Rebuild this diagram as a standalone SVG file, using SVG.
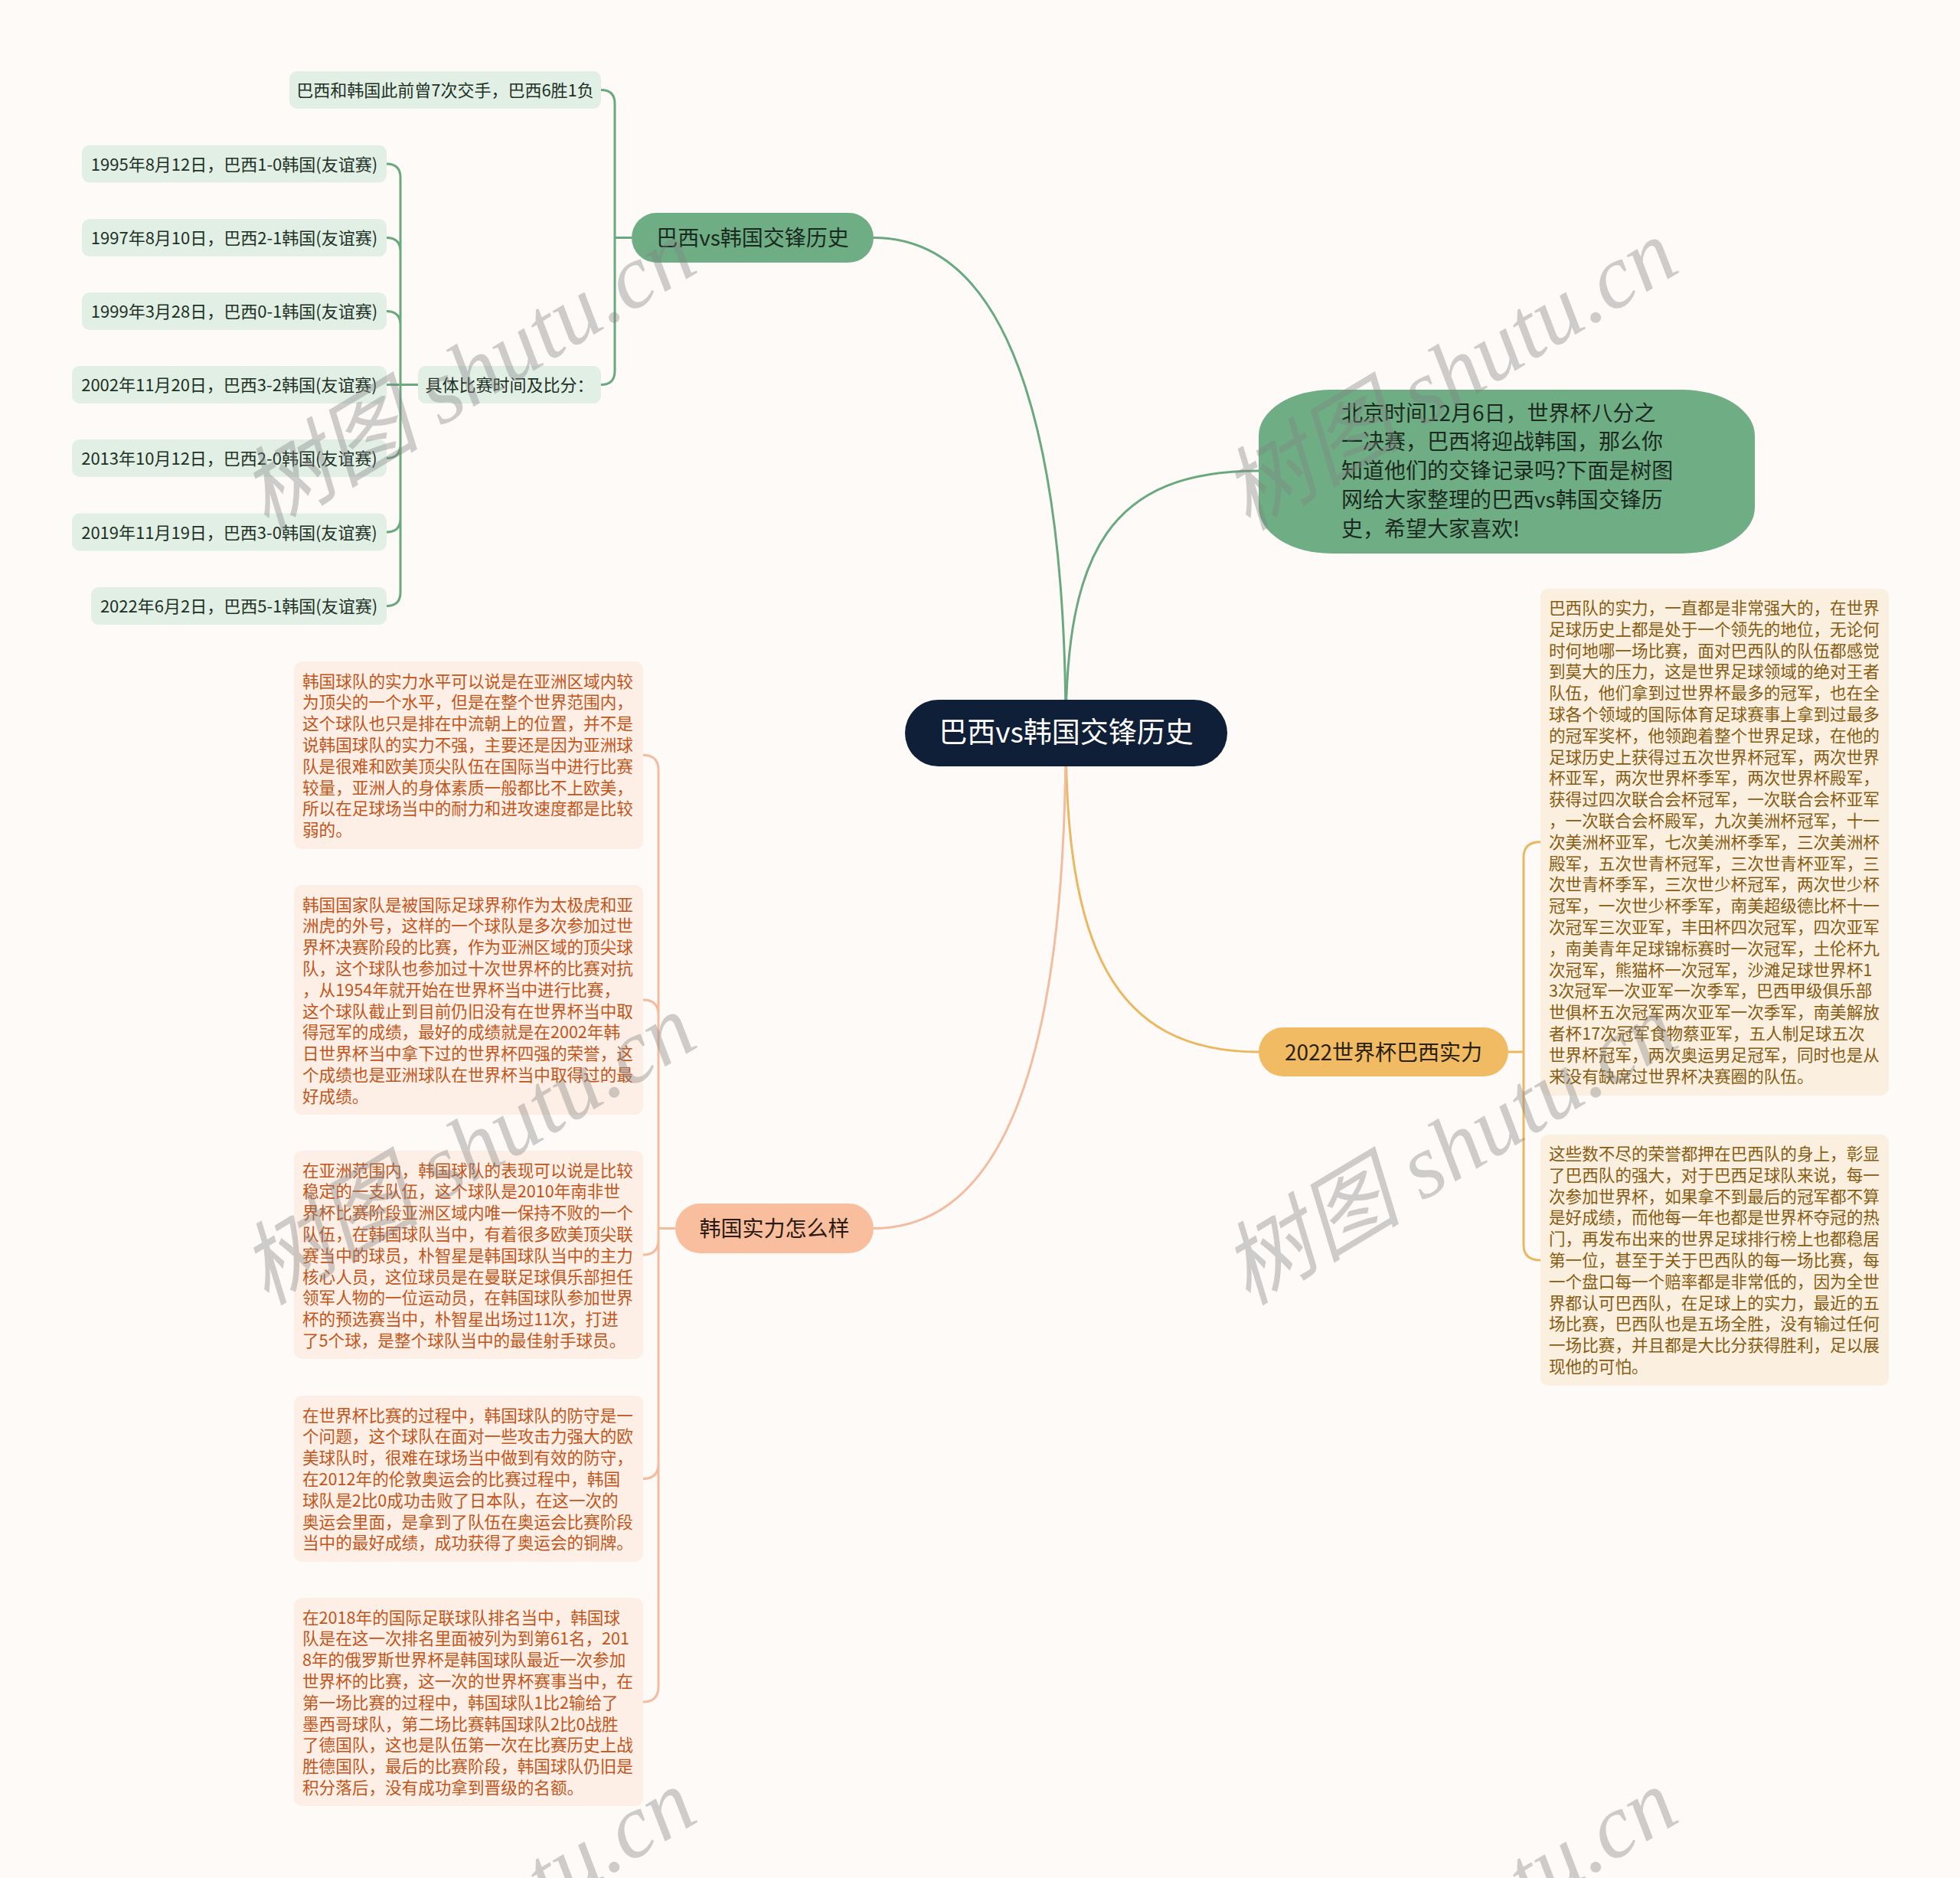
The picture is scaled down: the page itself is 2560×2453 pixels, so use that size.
<svg xmlns="http://www.w3.org/2000/svg" width="2560" height="2453" viewBox="0 0 2560 2453">
<style>
text{font-family:"Noto Sans CJK SC","Noto Sans",sans-serif}
.lg{fill:#e1efe5}
.lgt{fill:#1e3125;font-size:22px}
.para{font-size:21.6px}
.kr{fill:#fdefe6}
.krt{fill:#c1561b}
.br{fill:#fbf0e0}
.brt{fill:#875c12}
.big{font-size:28px}
.cg{fill:none;stroke:#6aa97f;stroke-width:3}
.co{fill:none;stroke:#ebb862;stroke-width:3}
.cs{fill:none;stroke:#f4bc9e;stroke-width:3}
.wm text{font-family:"Liberation Serif","Noto Sans CJK SC",serif;font-style:italic;font-size:118px;fill:#808080;fill-opacity:0.38}
</style>
<rect width="2560" height="2453" fill="#fdfaf8"/>

<g id="connectors">
<path class="cg" d="M1392,957 C1392,600 1330,310.5 1141,310.5"/>
<path class="cg" d="M1392,957 C1392,720 1450,615 1644,615"/>
<path class="co" d="M1392,957 C1392,1230 1450,1374 1644,1374"/>
<path class="cs" d="M1392,957 C1392,1330 1330,1604.5 1141,1604.5"/>
<path class="cg" d="M825,310.5 H803 M785,117.5 Q803,117.5 803,135.5 V484.5 Q803,502.5 785,502.5"/>
<path class="cg" d="M546,502.5 H505 M505,214 Q523,214 523,232 V773.5 Q523,791.5 505,791.5 M505,310.5 Q523,310.5 523,328.5 M505,406.5 Q523,406.5 523,424.5 M505,598.5 Q523,598.5 523,580.5 M505,695 Q523,695 523,677"/>
<path class="cs" d="M882,1604.5 H860 M840,986.3 Q860,986.3 860,1006 V2203 Q860,2223 840,2223 M840,1306 Q860,1306 860,1326 M840,1639 Q860,1639 860,1619 M840,1931.5 Q860,1931.5 860,1911.5"/>
<path class="co" d="M1970,1374 H1990 M2012,1099.8 Q1990,1099.8 1990,1120 V1626 Q1990,1646 2012,1646"/>
</g>

<g id="root">
<rect x="1182" y="914" width="421" height="87" rx="43.5" fill="#0f1f38"/>
<text x="1392.5" y="970" text-anchor="middle" font-size="37" fill="#ffffff">巴西vs韩国交锋历史</text>
</g>

<g id="branch-history">
<rect x="825" y="278" width="316" height="65" rx="32.5" fill="#6fae85"/>
<text x="983" y="321" text-anchor="middle" class="big" fill="#1a2a1f">巴西vs韩国交锋历史</text>
</g>

<g id="note-7">
<rect class="lg" x="378" y="93" width="407" height="49" rx="10"/>
<text class="lgt" x="581.5" y="126" text-anchor="middle">巴西和韩国此前曾7次交手，巴西6胜1负</text>
</g>
<g id="note-detail">
<rect class="lg" x="546" y="478" width="239" height="49" rx="10"/>
<text class="lgt" x="665.5" y="511" text-anchor="middle">具体比赛时间及比分：</text>
</g>
<g id="m1995">
<rect class="lg" x="107" y="189.5" width="398" height="49" rx="10"/>
<text class="lgt" x="306" y="222.5" text-anchor="middle">1995年8月12日，巴西1-0韩国(友谊赛)</text>
</g>
<g id="m1997">
<rect class="lg" x="107" y="286" width="398" height="49" rx="10"/>
<text class="lgt" x="306" y="319" text-anchor="middle">1997年8月10日，巴西2-1韩国(友谊赛)</text>
</g>
<g id="m1999">
<rect class="lg" x="107" y="382" width="398" height="49" rx="10"/>
<text class="lgt" x="306" y="415" text-anchor="middle">1999年3月28日，巴西0-1韩国(友谊赛)</text>
</g>
<g id="m2002">
<rect class="lg" x="94" y="478" width="411" height="49" rx="10"/>
<text class="lgt" x="299.5" y="511" text-anchor="middle">2002年11月20日，巴西3-2韩国(友谊赛)</text>
</g>
<g id="m2013">
<rect class="lg" x="94" y="574" width="411" height="49" rx="10"/>
<text class="lgt" x="299.5" y="607" text-anchor="middle">2013年10月12日，巴西2-0韩国(友谊赛)</text>
</g>
<g id="m2019">
<rect class="lg" x="94" y="670.5" width="411" height="49" rx="10"/>
<text class="lgt" x="299.5" y="703.5" text-anchor="middle">2019年11月19日，巴西3-0韩国(友谊赛)</text>
</g>
<g id="m2022">
<rect class="lg" x="119" y="767" width="386" height="49" rx="10"/>
<text class="lgt" x="312" y="800" text-anchor="middle">2022年6月2日，巴西5-1韩国(友谊赛)</text>
</g>

<g id="intro">
<rect x="1644" y="509" width="648" height="214" rx="95" ry="60" fill="#6fae85"/>
<text class="big" fill="#1c2a20" x="1752" y="549.5">
<tspan x="1752">北京时间12月6日，世界杯八分之</tspan>
<tspan x="1752" dy="37.8">一决赛，巴西将迎战韩国，那么你</tspan>
<tspan x="1752" dy="37.8">知道他们的交锋记录吗?下面是树图</tspan>
<tspan x="1752" dy="37.8">网给大家整理的巴西vs韩国交锋历</tspan>
<tspan x="1752" dy="37.8">史，希望大家喜欢!</tspan>
</text>
</g>

<g id="branch-brazil">
<rect x="1644" y="1342" width="326" height="64" rx="32" fill="#f0bb62"/>
<text x="1807" y="1384.5" text-anchor="middle" class="big" fill="#2a2010">2022世界杯巴西实力</text>
</g>

<g id="brazil-1">
<rect class="br" x="2012" y="769" width="455" height="662" rx="10"/>
<text class="para brt" x="2023" y="802">
<tspan x="2023">巴西队的实力，一直都是非常强大的，在世界</tspan>
<tspan x="2023" dy="27.8">足球历史上都是处于一个领先的地位，无论何</tspan>
<tspan x="2023" dy="27.8">时何地哪一场比赛，面对巴西队的队伍都感觉</tspan>
<tspan x="2023" dy="27.8">到莫大的压力，这是世界足球领域的绝对王者</tspan>
<tspan x="2023" dy="27.8">队伍，他们拿到过世界杯最多的冠军，也在全</tspan>
<tspan x="2023" dy="27.8">球各个领域的国际体育足球赛事上拿到过最多</tspan>
<tspan x="2023" dy="27.8">的冠军奖杯，他领跑着整个世界足球，在他的</tspan>
<tspan x="2023" dy="27.8">足球历史上获得过五次世界杯冠军，两次世界</tspan>
<tspan x="2023" dy="27.8">杯亚军，两次世界杯季军，两次世界杯殿军，</tspan>
<tspan x="2023" dy="27.8">获得过四次联合会杯冠军，一次联合会杯亚军</tspan>
<tspan x="2023" dy="27.8">，一次联合会杯殿军，九次美洲杯冠军，十一</tspan>
<tspan x="2023" dy="27.8">次美洲杯亚军，七次美洲杯季军，三次美洲杯</tspan>
<tspan x="2023" dy="27.8">殿军，五次世青杯冠军，三次世青杯亚军，三</tspan>
<tspan x="2023" dy="27.8">次世青杯季军，三次世少杯冠军，两次世少杯</tspan>
<tspan x="2023" dy="27.8">冠军，一次世少杯季军，南美超级德比杯十一</tspan>
<tspan x="2023" dy="27.8">次冠军三次亚军，丰田杯四次冠军，四次亚军</tspan>
<tspan x="2023" dy="27.8">，南美青年足球锦标赛时一次冠军，土伦杯九</tspan>
<tspan x="2023" dy="27.8">次冠军，熊猫杯一次冠军，沙滩足球世界杯1</tspan>
<tspan x="2023" dy="27.8">3次冠军一次亚军一次季军，巴西甲级俱乐部</tspan>
<tspan x="2023" dy="27.8">世俱杯五次冠军两次亚军一次季军，南美解放</tspan>
<tspan x="2023" dy="27.8">者杯17次冠军食物蔡亚军，五人制足球五次</tspan>
<tspan x="2023" dy="27.8">世界杯冠军，两次奥运男足冠军，同时也是从</tspan>
<tspan x="2023" dy="27.8">来没有缺席过世界杯决赛圈的队伍。</tspan>
</text>
</g>

<g id="brazil-2">
<rect class="br" x="2012" y="1482" width="455" height="328" rx="10"/>
<text class="para brt" x="2023" y="1515">
<tspan x="2023">这些数不尽的荣誉都押在巴西队的身上，彰显</tspan>
<tspan x="2023" dy="27.8">了巴西队的强大，对于巴西足球队来说，每一</tspan>
<tspan x="2023" dy="27.8">次参加世界杯，如果拿不到最后的冠军都不算</tspan>
<tspan x="2023" dy="27.8">是好成绩，而他每一年也都是世界杯夺冠的热</tspan>
<tspan x="2023" dy="27.8">门，再发布出来的世界足球排行榜上也都稳居</tspan>
<tspan x="2023" dy="27.8">第一位，甚至于关于巴西队的每一场比赛，每</tspan>
<tspan x="2023" dy="27.8">一个盘口每一个赔率都是非常低的，因为全世</tspan>
<tspan x="2023" dy="27.8">界都认可巴西队，在足球上的实力，最近的五</tspan>
<tspan x="2023" dy="27.8">场比赛，巴西队也是五场全胜，没有输过任何</tspan>
<tspan x="2023" dy="27.8">一场比赛，并且都是大比分获得胜利，足以展</tspan>
<tspan x="2023" dy="27.8">现他的可怕。</tspan>
</text>
</g>

<g id="branch-korea">
<rect x="882" y="1572" width="259" height="65" rx="32.5" fill="#f8be9d"/>
<text x="1011.5" y="1615" text-anchor="middle" class="big" fill="#2a1a12">韩国实力怎么样</text>
</g>

<g id="korea-1">
<rect class="kr" x="384" y="864" width="456" height="245" rx="10"/>
<text class="para krt" x="395" y="897.5">
<tspan x="395">韩国球队的实力水平可以说是在亚洲区域内较</tspan>
<tspan x="395" dy="27.8">为顶尖的一个水平，但是在整个世界范围内，</tspan>
<tspan x="395" dy="27.8">这个球队也只是排在中流朝上的位置，并不是</tspan>
<tspan x="395" dy="27.8">说韩国球队的实力不强，主要还是因为亚洲球</tspan>
<tspan x="395" dy="27.8">队是很难和欧美顶尖队伍在国际当中进行比赛</tspan>
<tspan x="395" dy="27.8">较量，亚洲人的身体素质一般都比不上欧美，</tspan>
<tspan x="395" dy="27.8">所以在足球场当中的耐力和进攻速度都是比较</tspan>
<tspan x="395" dy="27.8">弱的。</tspan>
</text>
</g>

<g id="korea-2">
<rect class="kr" x="384" y="1156" width="456" height="300" rx="10"/>
<text class="para krt" x="395" y="1189.5">
<tspan x="395">韩国国家队是被国际足球界称作为太极虎和亚</tspan>
<tspan x="395" dy="27.8">洲虎的外号，这样的一个球队是多次参加过世</tspan>
<tspan x="395" dy="27.8">界杯决赛阶段的比赛，作为亚洲区域的顶尖球</tspan>
<tspan x="395" dy="27.8">队，这个球队也参加过十次世界杯的比赛对抗</tspan>
<tspan x="395" dy="27.8">，从1954年就开始在世界杯当中进行比赛，</tspan>
<tspan x="395" dy="27.8">这个球队截止到目前仍旧没有在世界杯当中取</tspan>
<tspan x="395" dy="27.8">得冠军的成绩，最好的成绩就是在2002年韩</tspan>
<tspan x="395" dy="27.8">日世界杯当中拿下过的世界杯四强的荣誉，这</tspan>
<tspan x="395" dy="27.8">个成绩也是亚洲球队在世界杯当中取得过的最</tspan>
<tspan x="395" dy="27.8">好成绩。</tspan>
</text>
</g>

<g id="korea-3">
<rect class="kr" x="384" y="1503" width="456" height="272" rx="10"/>
<text class="para krt" x="395" y="1536.5">
<tspan x="395">在亚洲范围内，韩国球队的表现可以说是比较</tspan>
<tspan x="395" dy="27.8">稳定的一支队伍，这个球队是2010年南非世</tspan>
<tspan x="395" dy="27.8">界杯比赛阶段亚洲区域内唯一保持不败的一个</tspan>
<tspan x="395" dy="27.8">队伍，在韩国球队当中，有着很多欧美顶尖联</tspan>
<tspan x="395" dy="27.8">赛当中的球员，朴智星是韩国球队当中的主力</tspan>
<tspan x="395" dy="27.8">核心人员，这位球员是在曼联足球俱乐部担任</tspan>
<tspan x="395" dy="27.8">领军人物的一位运动员，在韩国球队参加世界</tspan>
<tspan x="395" dy="27.8">杯的预选赛当中，朴智星出场过11次，打进</tspan>
<tspan x="395" dy="27.8">了5个球，是整个球队当中的最佳射手球员。</tspan>
</text>
</g>

<g id="korea-4">
<rect class="kr" x="384" y="1823" width="456" height="217" rx="10"/>
<text class="para krt" x="395" y="1856.5">
<tspan x="395">在世界杯比赛的过程中，韩国球队的防守是一</tspan>
<tspan x="395" dy="27.8">个问题，这个球队在面对一些攻击力强大的欧</tspan>
<tspan x="395" dy="27.8">美球队时，很难在球场当中做到有效的防守，</tspan>
<tspan x="395" dy="27.8">在2012年的伦敦奥运会的比赛过程中，韩国</tspan>
<tspan x="395" dy="27.8">球队是2比0成功击败了日本队，在这一次的</tspan>
<tspan x="395" dy="27.8">奥运会里面，是拿到了队伍在奥运会比赛阶段</tspan>
<tspan x="395" dy="27.8">当中的最好成绩，成功获得了奥运会的铜牌。</tspan>
</text>
</g>

<g id="korea-5">
<rect class="kr" x="384" y="2087" width="456" height="272" rx="10"/>
<text class="para krt" x="395" y="2120.5">
<tspan x="395">在2018年的国际足联球队排名当中，韩国球</tspan>
<tspan x="395" dy="27.8">队是在这一次排名里面被列为到第61名，201</tspan>
<tspan x="395" dy="27.8">8年的俄罗斯世界杯是韩国球队最近一次参加</tspan>
<tspan x="395" dy="27.8">世界杯的比赛，这一次的世界杯赛事当中，在</tspan>
<tspan x="395" dy="27.8">第一场比赛的过程中，韩国球队1比2输给了</tspan>
<tspan x="395" dy="27.8">墨西哥球队，第二场比赛韩国球队2比0战胜</tspan>
<tspan x="395" dy="27.8">了德国队，这也是队伍第一次在比赛历史上战</tspan>
<tspan x="395" dy="27.8">胜德国队，最后的比赛阶段，韩国球队仍旧是</tspan>
<tspan x="395" dy="27.8">积分落后，没有成功拿到晋级的名额。</tspan>
</text>
</g>

<g id="watermarks" class="wm">
<text transform="translate(348,694) rotate(-31)">树图 shutu.cn</text>
<text transform="translate(1630,694) rotate(-31)">树图 shutu.cn</text>
<text transform="translate(348,1706) rotate(-31)">树图 shutu.cn</text>
<text transform="translate(1630,1706) rotate(-31)">树图 shutu.cn</text>
<text transform="translate(348,2718) rotate(-31)">树图 shutu.cn</text>
<text transform="translate(1630,2718) rotate(-31)">树图 shutu.cn</text>
</g>
</svg>
